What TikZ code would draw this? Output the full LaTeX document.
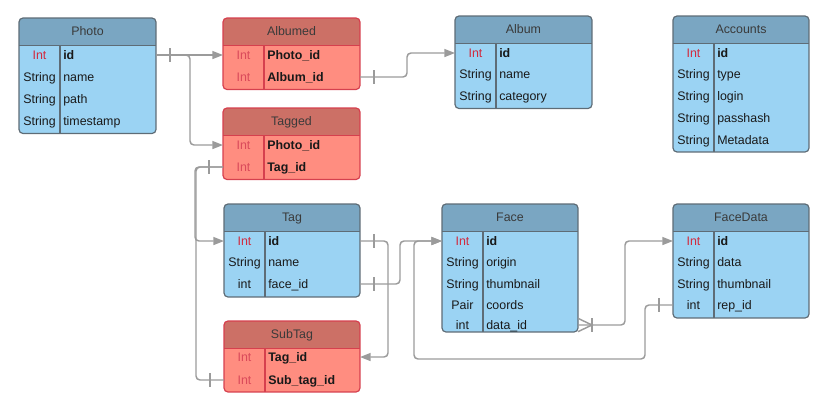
\documentclass[tikz,border=0pt]{standalone}
\usepackage{fontspec}
\setmainfont{Liberation Sans}
\usepackage{tikz}
\usetikzlibrary{arrows.meta}
\usetikzlibrary{calc}
\usetikzlibrary{decorations.markings}
\tikzset{>={Triangle[length=8pt,width=6pt]}}

\definecolor{bluehead}{HTML}{7AA6C2}
\definecolor{bluebody}{HTML}{9BD3F3}
\definecolor{blueline}{HTML}{5E6C76}
\definecolor{redhead}{HTML}{CC7066}
\definecolor{redbody}{HTML}{FF8D80}
\definecolor{redline}{HTML}{D6404E}
\definecolor{keyred}{HTML}{D22A3E}
\definecolor{fkred}{HTML}{DA4A5A}
\definecolor{conncol}{HTML}{9B9B9B}
\definecolor{titlecol}{HTML}{3A3A3A}

\newcommand{\pk}{\textcolor{keyred}{Int}}
\newcommand{\fk}{\textcolor{fkred}{Int}}

% #1 name, #2 x, #3 top, #4 width, #5 divider, #6 body height, #7 scheme, #8 title
\newcommand{\ertable}[8]{%
  \begin{scope}
    \clip[rounded corners=3] (#2,#3) rectangle ++(#4,27.5+#6);
    \fill[#7body] (#2,#3) rectangle ++(#4,27.5+#6);
    \fill[#7head] (#2,#3) rectangle ++(#4,27.5);
  \end{scope}
  \draw[#7line,line width=0.9pt] (#2,#3+27.5) -- ++(#4,0);
  \draw[#7line,line width=0.9pt] (#2+#5,#3+27.5) -- ++(0,#6);
  \draw[#7line,line width=0.9pt,rounded corners=3] (#2,#3) rectangle ++(#4,27.5+#6);
  \node[title] (#1) at (#2+#4/2,#3+17.25) {#8};
}
% #1 name, #2 table x, #3 row y, #4 type, #5 field, #6 table width
\newcommand{\errow}[6]{%
  \node[rowbox,minimum width={#6*0.75pt}] (#1) at (#2+#6/2,#3) {};
  \node[typetxt] (#1-t) at (#2+20.5,#3+4.5) {#4};
  \node[fieldtxt] (#1-f) at (#2+44,#3+4.5) {#5};
}

\begin{document}
\begin{tikzpicture}[x=0.75pt,y=-0.75pt,
  font=\fontsize{9.3}{11}\selectfont,
  title/.style={anchor=base,inner sep=0,text=titlecol},
  rowbox/.style={rectangle,inner sep=0,outer sep=0,minimum height=10pt},
  typetxt/.style={anchor=base,inner sep=0,text=black!90},
  fieldtxt/.style={anchor=base west,inner sep=0,text=black!90},
  conn/.style={draw=conncol,line width=1.1pt,rounded corners=3pt},
  one/.style={postaction={decorate,decoration={markings,
    mark=at position 10.5pt with {\draw[-,conncol,line width=1.1pt] (0,-5pt) -- (0,5pt);}}}},
  many/.style={postaction={decorate,decoration={markings,
    mark=at position 10.5pt with {\draw[-,conncol,line width=1.1pt] (0,-5pt) -- (0,5pt);
      \draw[-,conncol,line width=1.1pt,sharp corners] (-10.5pt,-5pt) -- (0,0) -- (-10.5pt,5pt);}}}}]
\useasboundingbox (0,0) rectangle (829,415);

% tables
\ertable{photo}{19}{18}{137}{41}{88}{blue}{Photo}
\errow{photo-id}{19}{55}{\pk}{\textbf{id}}{137}
\errow{photo-name}{19}{77}{String}{name}{137}
\errow{photo-path}{19}{99}{String}{path}{137}
\errow{photo-ts}{19}{121}{String}{timestamp}{137}

\ertable{albumed}{223}{18}{137}{41}{44}{red}{Albumed}
\errow{albumed-pid}{223}{55}{\fk}{\textbf{Photo\_id}}{137}
\errow{albumed-aid}{223}{77}{\fk}{\textbf{Album\_id}}{137}

\ertable{tagged}{223}{108}{137}{41}{44}{red}{Tagged}
\errow{tagged-pid}{223}{145}{\fk}{\textbf{Photo\_id}}{137}
\errow{tagged-tid}{223}{167}{\fk}{\textbf{Tag\_id}}{137}

\ertable{album}{455}{16}{137}{41}{65}{blue}{Album}
\errow{album-id}{455}{53}{\pk}{\textbf{id}}{137}
\errow{album-name}{455}{74}{String}{name}{137}
\errow{album-cat}{455}{96}{String}{category}{137}

\ertable{accounts}{673}{16}{136}{41}{108.5}{blue}{Accounts}
\errow{accounts-id}{673}{53}{\pk}{\textbf{id}}{136}
\errow{accounts-type}{673}{74}{String}{type}{136}
\errow{accounts-login}{673}{96}{String}{login}{136}
\errow{accounts-hash}{673}{118}{String}{passhash}{136}
\errow{accounts-meta}{673}{140}{String}{Metadata}{136}

\ertable{tag}{224}{204}{136}{41}{65.5}{blue}{Tag}
\errow{tag-id}{224}{241}{\pk}{\textbf{id}}{136}
\errow{tag-name}{224}{262}{String}{name}{136}
\errow{tag-fid}{224}{284}{int}{face\_id}{136}

\ertable{subtag}{224}{321}{136}{41}{43.5}{red}{SubTag}
\errow{subtag-tid}{224}{357}{\fk}{\textbf{Tag\_id}}{136}
\errow{subtag-stid}{224}{380}{\fk}{\textbf{Sub\_tag\_id}}{136}

\ertable{face}{442}{204}{136}{41}{100.5}{blue}{Face}
\errow{face-id}{442}{241}{\pk}{\textbf{id}}{136}
\errow{face-origin}{442}{262}{String}{origin}{136}
\errow{face-thumb}{442}{284}{String}{thumbnail}{136}
\errow{face-coords}{442}{305}{Pair}{coords}{136}
\errow{face-did}{442}{325}{int}{data\_id}{136}

\ertable{facedata}{673}{204}{136}{41}{86.5}{blue}{FaceData}
\errow{facedata-id}{673}{241}{\pk}{\textbf{id}}{136}
\errow{facedata-data}{673}{262}{String}{data}{136}
\errow{facedata-thumb}{673}{284}{String}{thumbnail}{136}
\errow{facedata-rid}{673}{305}{int}{rep\_id}{136}

% connectors
\draw[conn,one,->] (photo-id.east) -- (albumed-pid.west);
\draw[conn,->] (photo-id.east) -- ++(34,0) |- (tagged-pid.west);
\draw[conn,one,->] (albumed-aid.east) -- ++(47,0) |- (album-id.west);
\draw[conn,one,->] (tagged-tid.west) -- ++(-28,0) |- (tag-id.west);
\draw[conn,one] (subtag-stid.west) -- ++(-28,0) |- (tagged-tid.west);
\draw[conn,one,->] (tag-id.east) -- ++(28,0) |- (subtag-tid.east);
\draw[conn,one,->] (tag-fid.east) -- ++(40,0) |- (face-id.west);
\draw[conn,one,->] (facedata-rid.west) -- ++(-28,0) |- ($(face-id.west)+(-28,118)$) |- (face-id.west);
\draw[conn,many,->] (face-did.east) -- ++(47,0) |- (facedata-id.west);
\end{tikzpicture}
\end{document}
